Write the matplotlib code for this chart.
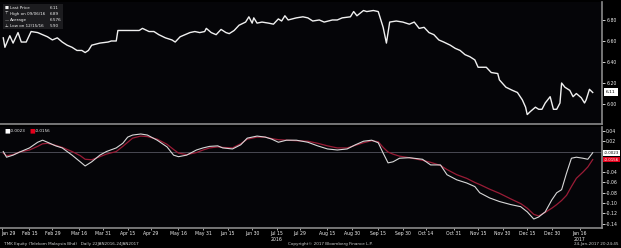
import numpy as np
import pandas as pd
import matplotlib
matplotlib.use("Agg")
import matplotlib.pyplot as plt
from matplotlib.patches import Rectangle

# --- data ---
price_dates = [
    "2016-01-30", "2016-01-31", "2016-02-03", "2016-02-05", "2016-02-08", "2016-02-10",
    "2016-02-13", "2016-02-16", "2016-02-20", "2016-02-23", "2016-02-26", "2016-02-29",
    "2016-03-03", "2016-03-06", "2016-03-09", "2016-03-12", "2016-03-15", "2016-03-18",
    "2016-03-20", "2016-03-22", "2016-03-24", "2016-03-29", "2016-04-03", "2016-04-05",
    "2016-04-08", "2016-04-09", "2016-04-13", "2016-04-22", "2016-04-24", "2016-04-28",
    "2016-05-01", "2016-05-04", "2016-05-08", "2016-05-12", "2016-05-14", "2016-05-17",
    "2016-05-20", "2016-05-23", "2016-05-26", "2016-05-29", "2016-06-01", "2016-06-02",
    "2016-06-05", "2016-06-08", "2016-06-11", "2016-06-14", "2016-06-16", "2016-06-19",
    "2016-06-22", "2016-06-26", "2016-06-28", "2016-06-30", "2016-07-01", "2016-07-03",
    "2016-07-06", "2016-07-10", "2016-07-13", "2016-07-16", "2016-07-18", "2016-07-20",
    "2016-07-22", "2016-07-27", "2016-07-31", "2016-08-03", "2016-08-06", "2016-08-10",
    "2016-08-13", "2016-08-18", "2016-08-21", "2016-08-24", "2016-08-29", "2016-08-31",
    "2016-09-02", "2016-09-06", "2016-09-08", "2016-09-12", "2016-09-15", "2016-09-18",
    "2016-09-20", "2016-09-22", "2016-09-26", "2016-09-30", "2016-10-04", "2016-10-07",
    "2016-10-10", "2016-10-13", "2016-10-16", "2016-10-19", "2016-10-22", "2016-10-25",
    "2016-10-29", "2016-11-01", "2016-11-04", "2016-11-07", "2016-11-10", "2016-11-13",
    "2016-11-15", "2016-11-20", "2016-11-23", "2016-11-27", "2016-11-28", "2016-12-02",
    "2016-12-06", "2016-12-09", "2016-12-12", "2016-12-14", "2016-12-15", "2016-12-17",
    "2016-12-20", "2016-12-22", "2016-12-24", "2016-12-26", "2016-12-29", "2016-12-31",
    "2017-01-02", "2017-01-04", "2017-01-05", "2017-01-07", "2017-01-10", "2017-01-12",
    "2017-01-14", "2017-01-17", "2017-01-19", "2017-01-20", "2017-01-22", "2017-01-24",
]
price = [
    6.63, 6.54, 6.65, 6.58, 6.68, 6.59,
    6.59, 6.69, 6.68, 6.66, 6.64, 6.61,
    6.63, 6.59, 6.56, 6.54, 6.51, 6.51,
    6.49, 6.51, 6.56, 6.58, 6.59, 6.60,
    6.60, 6.70, 6.70, 6.70, 6.72, 6.69,
    6.69, 6.66, 6.63, 6.61, 6.59, 6.64,
    6.66, 6.68, 6.69, 6.68, 6.69, 6.72,
    6.68, 6.66, 6.71, 6.68, 6.67, 6.70,
    6.75, 6.78, 6.83, 6.77, 6.82, 6.77,
    6.78, 6.77, 6.76, 6.81, 6.79, 6.84,
    6.80, 6.82, 6.83, 6.82, 6.79, 6.80,
    6.78, 6.80, 6.80, 6.82, 6.83, 6.88,
    6.84, 6.89, 6.88, 6.89, 6.88, 6.73,
    6.58, 6.78, 6.79, 6.78, 6.76, 6.78,
    6.72, 6.73, 6.68, 6.66, 6.61, 6.59,
    6.56, 6.53, 6.51, 6.47, 6.45, 6.42,
    6.35, 6.35, 6.30, 6.29, 6.23, 6.16,
    6.13, 6.11, 6.04, 5.97, 5.90, 5.93,
    5.97, 5.95, 5.95, 6.01, 6.07, 5.95,
    5.95, 6.01, 6.20, 6.16, 6.13, 6.07,
    6.10, 6.06, 6.01, 6.04, 6.14, 6.11,
]

osc_dates = [
    "2016-01-30", "2016-02-01", "2016-02-05", "2016-02-09", "2016-02-15", "2016-02-20",
    "2016-02-23", "2016-02-26", "2016-03-02", "2016-03-06", "2016-03-12", "2016-03-17",
    "2016-03-20", "2016-03-24", "2016-03-29", "2016-04-02", "2016-04-08", "2016-04-12",
    "2016-04-15", "2016-04-18", "2016-04-23", "2016-04-27", "2016-05-03", "2016-05-09",
    "2016-05-13", "2016-05-16", "2016-05-21", "2016-05-27", "2016-05-31", "2016-06-04",
    "2016-06-09", "2016-06-12", "2016-06-18", "2016-06-23", "2016-06-27", "2016-07-03",
    "2016-07-08", "2016-07-12", "2016-07-16", "2016-07-21", "2016-07-27", "2016-08-03",
    "2016-08-09", "2016-08-15", "2016-08-21", "2016-08-27", "2016-09-01", "2016-09-06",
    "2016-09-11", "2016-09-15", "2016-09-18", "2016-09-21", "2016-09-24", "2016-09-28",
    "2016-10-04", "2016-10-12", "2016-10-17", "2016-10-23", "2016-10-27", "2016-11-02",
    "2016-11-08", "2016-11-13", "2016-11-16", "2016-11-22", "2016-11-28", "2016-12-05",
    "2016-12-11", "2016-12-15", "2016-12-19", "2016-12-22", "2016-12-26", "2016-12-30",
    "2017-01-02", "2017-01-05", "2017-01-08", "2017-01-11", "2017-01-14", "2017-01-18",
    "2017-01-21", "2017-01-24",
]
osc_fast = [
    0.000, -0.011, -0.007, -0.001, 0.007, 0.018,
    0.022, 0.018, 0.011, 0.007, -0.007, -0.020,
    -0.028, -0.020, -0.007, 0.000, 0.007, 0.016,
    0.028, 0.032, 0.034, 0.032, 0.022, 0.009,
    -0.007, -0.010, -0.007, 0.003, 0.007, 0.010,
    0.011, 0.007, 0.005, 0.013, 0.026, 0.030,
    0.028, 0.024, 0.018, 0.022, 0.022, 0.018,
    0.011, 0.005, 0.003, 0.005, 0.013, 0.020,
    0.022, 0.017, -0.003, -0.022, -0.020, -0.013,
    -0.012, -0.015, -0.026, -0.026, -0.045, -0.055,
    -0.061, -0.068, -0.080, -0.090, -0.097, -0.103,
    -0.107, -0.117, -0.131, -0.127, -0.117, -0.094,
    -0.080, -0.074, -0.042, -0.013, -0.011, -0.013,
    -0.015, -0.0023,
]
osc_slow = [
    -0.003, -0.008, -0.006, -0.001, 0.003, 0.010,
    0.015, 0.016, 0.012, 0.008, 0.000, -0.008,
    -0.015, -0.016, -0.010, -0.005, 0.000, 0.010,
    0.018, 0.026, 0.030, 0.029, 0.024, 0.014,
    0.004, -0.003, -0.006, -0.002, 0.003, 0.007,
    0.009, 0.008, 0.007, 0.015, 0.024, 0.028,
    0.028, 0.025, 0.023, 0.022, 0.021, 0.020,
    0.016, 0.011, 0.007, 0.007, 0.012, 0.017,
    0.021, 0.019, 0.008, -0.001, -0.005, -0.009,
    -0.012, -0.017, -0.021, -0.027, -0.035, -0.045,
    -0.052, -0.060, -0.064, -0.073, -0.081, -0.092,
    -0.101, -0.110, -0.122, -0.125, -0.118, -0.110,
    -0.103, -0.095, -0.085, -0.068, -0.052, -0.040,
    -0.030, -0.0156,
]

tick_dates = ["2016-01-29", "2016-02-15", "2016-02-29", "2016-03-16", "2016-03-31",
              "2016-04-15", "2016-04-29", "2016-05-16", "2016-05-31", "2016-06-15",
              "2016-06-30", "2016-07-15", "2016-07-29", "2016-08-15", "2016-08-30",
              "2016-09-15", "2016-09-30", "2016-10-14", "2016-10-31", "2016-11-15",
              "2016-11-30", "2016-12-15", "2016-12-30", "2017-01-16"]
tick_labels = ["Jan 29", "Feb 15", "Feb 29", "Mar 16", "Mar 31", "Apr 15", "Apr 29",
               "May 16", "May 31", "Jun 15", "Jun 30", "Jul 15\n2016", "Jul 29",
               "Aug 15", "Aug 30", "Sep 15", "Sep 30", "Oct 14", "Oct 31", "Nov 15",
               "Nov 30", "Dec 15", "Dec 30", "Jan 16\n2017"]
price_ticks = [6.00, 6.20, 6.40, 6.60, 6.80]
osc_ticks = [-0.14, -0.12, -0.10, -0.08, -0.06, -0.04, 0.02, 0.04]

price_legend = [("Last Price", "6.11"), ("High on 09/06/16", "6.89"),
                ("Average", "6.576"), ("Low on 12/15/16", "5.90")]
last_price = 6.11
osc_last = [-0.0023, -0.0156]

BG = "#050508"
GRID = "#8a8a8a"
WHITE = "#f0f0f0"
RED = "#9a1c36"
FS = 3.3

pd_price = pd.to_datetime(price_dates)
pd_osc = pd.to_datetime(osc_dates)
xmin, xmax = pd.Timestamp("2016-01-28"), pd.Timestamp("2017-01-29 16:00")

W, H = 621, 248
fig = plt.figure(figsize=(W / 100, H / 100), dpi=100, facecolor="black")
ax1 = fig.add_axes([0, 1 - 124 / H, 602 / W, 122 / H], facecolor=BG)
ax2 = fig.add_axes([0, 1 - 228 / H, 602 / W, 101 / H], facecolor=BG)

ax1.plot(pd_price, price, color=WHITE, lw=1.0)
ax1.set_ylim(5.81, 6.971)

ax2.axhline(0, color="#55555f", lw=0.6)
ax2.plot(pd_osc, osc_slow, color=RED, lw=0.9)
ax2.plot(pd_osc, osc_fast, color="#d8d8d8", lw=0.8)
ax2.set_ylim(-0.1484, 0.0476)

for ax in (ax1, ax2):
    ax.set_xlim(xmin, xmax)
    ax.yaxis.tick_right()
    ax.tick_params(axis="y", colors=WHITE, labelsize=FS, length=2, width=0.6, pad=1)
    for s in ("left", "top"):
        ax.spines[s].set_visible(False)
    for s in ("right", "bottom"):
        ax.spines[s].set_color(GRID)
        ax.spines[s].set_linewidth(1.2)

ax1.set_xticks([])
ax1.set_yticks(price_ticks)
ax1.set_yticklabels([f"{v:.2f}" for v in price_ticks])
ax2.set_yticks(osc_ticks)
ax2.set_yticklabels([f"{v:.2f}" for v in osc_ticks])

ax2.set_xticks(pd.to_datetime(tick_dates))
ax2.set_xticklabels(tick_labels)
ax2.tick_params(axis="x", colors=WHITE, labelsize=FS, length=1.5, width=0.5, pad=1)
for lab in ax2.get_xticklabels():
    lab.set_linespacing(1.05)
ax2.get_xticklabels()[0].set_horizontalalignment("left")

# value boxes on the right axis
BFS = 2.9
ax1.annotate(f"{last_price:.2f}", xy=(1, last_price), xycoords=("axes fraction", "data"),
             xytext=(3, 0), textcoords="offset points", va="center", ha="left",
             fontsize=3.2, color="black", annotation_clip=False,
             bbox=dict(boxstyle="square,pad=0.45", fc="white", ec="none"))
box_fc = ["white", "#e3001b"]
box_tc = ["black", "white"]
for v, fc, tc in zip(osc_last, box_fc, box_tc):
    ax2.annotate(f"{v:.4f}", xy=(1, v), xycoords=("axes fraction", "data"),
                 xytext=(1.5, 0), textcoords="offset points", va="center", ha="left",
                 fontsize=BFS, color=tc, annotation_clip=False,
                 bbox=dict(boxstyle="square,pad=0.2", fc=fc, ec="none"))

# top legend
LFS = 3.0
ax1.add_patch(Rectangle((3 / 602, 1 - 27 / 122), 60 / 602, 25 / 122,
                        transform=ax1.transAxes, fc="#1c1c1f", ec="none", zorder=3))
marks = ["\u25a0", "\u22a4", "\u2014", "\u22a5"]
for i, ((name, val), m) in enumerate(zip(price_legend, marks)):
    yy = 1 - (6 + 6 * i) / 122
    ax1.text(5 / 602, yy, m, transform=ax1.transAxes, fontsize=LFS, color=WHITE,
             va="center", zorder=4)
    ax1.text(10 / 602, yy, name, transform=ax1.transAxes, fontsize=LFS, color=WHITE,
             va="center", zorder=4)
    ax1.text(50 / 602, yy, val, transform=ax1.transAxes, fontsize=LFS, color=WHITE,
             va="center", zorder=4)

# bottom legend
ly = 1 - 4 / 101
ax2.text(4 / 602, ly, "\u25a0", transform=ax2.transAxes, fontsize=FS + 1, color="white",
         va="center")
ax2.text(10 / 602, ly, f"{osc_last[0]:.4f}", transform=ax2.transAxes, fontsize=LFS,
         color=WHITE, va="center")
ax2.text(29 / 602, ly, "\u25a0", transform=ax2.transAxes, fontsize=FS + 1, color="#e3001b",
         va="center")
ax2.text(35 / 602, ly, f"{osc_last[1]:.4f}", transform=ax2.transAxes, fontsize=LFS,
         color=WHITE, va="center")

# footer
fy = 1 - 244.5 / H
fig.text(3 / W, fy, "T MK Equity (Telekom Malaysia Bhd)   Daily 22JAN2016-24JAN2017",
         fontsize=LFS, color="#cfcfcf", va="center")
fig.text(330 / W, fy, "Copyright\u00a9 2017 Bloomberg Finance L.P.", fontsize=LFS,
         color="#cfcfcf", va="center", ha="center")
fig.text(619 / W, fy, "24-Jan-2017 20:24:45", fontsize=LFS, color="#cfcfcf",
         va="center", ha="right")

fig.savefig("out.png", dpi=100, facecolor="black")
